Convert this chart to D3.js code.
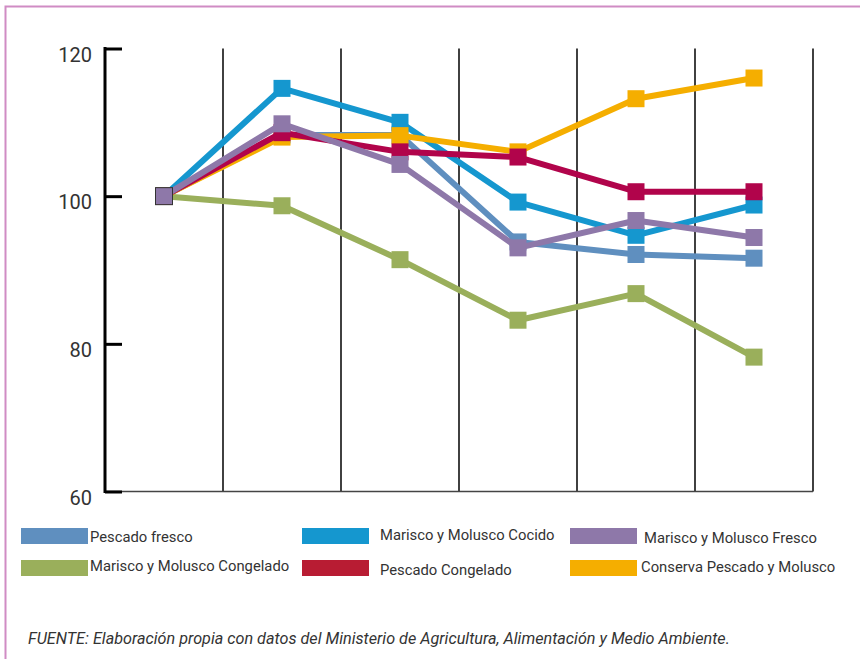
<!DOCTYPE html>
<html><head><meta charset="utf-8">
<script src="https://cdn.jsdelivr.net/npm/d3@7"></script>
<style>
html,body{margin:0;padding:0;background:#fff;}
svg{display:block;}
text{font-family:Roboto, "Noto Sans", sans-serif;}
</style></head>
<body>
<svg id="chart" width="860" height="659"></svg>
<script>
const categories = ["P1","P2","P3","P4","P5","P6"];
const yTicks = [60, 80, 100, 120];
const seriesNames = ["Pescado fresco","Marisco y Molusco Cocido","Marisco y Molusco Fresco","Marisco y Molusco Congelado","Pescado Congelado","Conserva Pescado y Molusco"];
const pescadoFresco = [100, 108.3, 108.3, 93.8, 92.1, 91.6];
const mariscoCocido = [100, 114.6, 110.0, 99.2, 94.7, 98.8];
const mariscoFresco = [100, 109.8, 104.3, 93.0, 96.7, 94.4];
const mariscoCongelado = [100, 98.7, 91.4, 83.2, 86.8, 78.2];
const pescadoCongelado = [100, 108.6, 106.0, 105.3, 100.6, 100.6];
const conserva = [100, 108.0, 108.2, 106.0, 113.2, 116.0];
const lineColors = ["#5f8fbf","#1597cf","#8e78a9","#9aaf5b","#b1044b","#f5ae00"];
const legendColors = ["#5f8fbf","#1597cf","#8e78a9","#9aaf5b","#b81c33","#f5ae00"];
const footer = "FUENTE: Elaboración propia con datos del Ministerio de Agricultura, Alimentación y Medio Ambiente.";

const values = [pescadoFresco, mariscoCocido, mariscoFresco, mariscoCongelado, pescadoCongelado, conserva];
const series = seriesNames.map((n,i)=>({name:n, values:values[i], color:lineColors[i], legend:legendColors[i]}));
const drawOrder = [0,1,3,5,4,2];

const svg = d3.select("#chart");
// border
svg.append("path").attr("d","M5.5,700 V6.5 H900").attr("fill","none").attr("stroke","#d08cc4").attr("stroke-width",2);

const x = d3.scaleBand().domain(categories).range([105, 813]).paddingInner(0).paddingOuter(0);
const y = d3.scaleLinear().domain([60,120]).range([491.5, 48.5]);
const cx = c => x(c) + x.bandwidth()/2;

// vertical grid lines at band boundaries
svg.append("g").selectAll("line").data(categories.slice(1).concat(["end"])).join("line")
  .attr("x1", (d,i)=> i < categories.length-1 ? x(d) : x.range()[1])
  .attr("x2", (d,i)=> i < categories.length-1 ? x(d) : x.range()[1])
  .attr("y1", y(120)).attr("y2", y(60))
  .attr("stroke","#111").attr("stroke-width",1.6);

// bottom axis line
svg.append("line").attr("x1",105).attr("x2",813).attr("y1",y(60)).attr("y2",y(60))
  .attr("stroke","#444").attr("stroke-width",1.6);

// left axis
const yAxis = d3.axisRight(y).tickValues(yTicks).tickSize(17).tickFormat("");
const ga = svg.append("g").attr("transform","translate(105,0)").call(yAxis);
ga.select(".domain").attr("stroke","#000").attr("stroke-width",3).attr("d", `M0,${y(120)-1.5}V${y(60)+1.5}`);
ga.selectAll(".tick line").attr("stroke","#000").attr("stroke-width",3);
svg.append("g").selectAll("text").data(yTicks).join("text")
  .attr("x",92).attr("y",d=>y(d)+6).attr("dy","0.35em").attr("text-anchor","end")
  .attr("font-size",20).attr("fill","#333").text(d=>d);

// lines and markers
const line = d3.line().x((d,i)=>cx(categories[i])).y(d=>y(d));
const ms = 17;
drawOrder.forEach(k=>{
  const s = series[k];
  const g = svg.append("g");
  g.append("path").datum(s.values).attr("d",line).attr("fill","none")
    .attr("stroke",s.color).attr("stroke-width",6).attr("stroke-linejoin","round");
  g.selectAll("rect").data(s.values).join("rect")
    .attr("x",(d,i)=>cx(categories[i])-ms/2).attr("y",d=>y(d)-ms/2)
    .attr("width",ms).attr("height",ms).attr("fill",s.color)
    .attr("stroke",(d,i)=> (k===2 && i===0) ? "#333" : "none").attr("stroke-width",1);
});

// legend
const legendPos = [
  {sx:21, sy:528, tx:90, ty:537},
  {sx:302, sy:528, tx:380, ty:535},
  {sx:570, sy:528, tx:644, ty:538},
  {sx:21, sy:560, tx:90, ty:566},
  {sx:302, sy:560, tx:380, ty:570},
  {sx:570, sy:560, tx:641, ty:567}
];
const lg = svg.append("g");
series.forEach((s,i)=>{
  const p = legendPos[i];
  lg.append("rect").attr("x",p.sx).attr("y",p.sy).attr("width",67).attr("height",16).attr("fill",s.legend);
  lg.append("text").attr("x",p.tx).attr("y",p.ty).attr("dy","0.35em").attr("font-size",14.8).attr("fill","#333").text(s.name);
});

svg.append("text").attr("x",28).attr("y",638).attr("dy","0.35em").attr("font-size",16.2)
  .attr("font-style","italic").attr("fill","#333").text(footer);
</script>
</body></html>
